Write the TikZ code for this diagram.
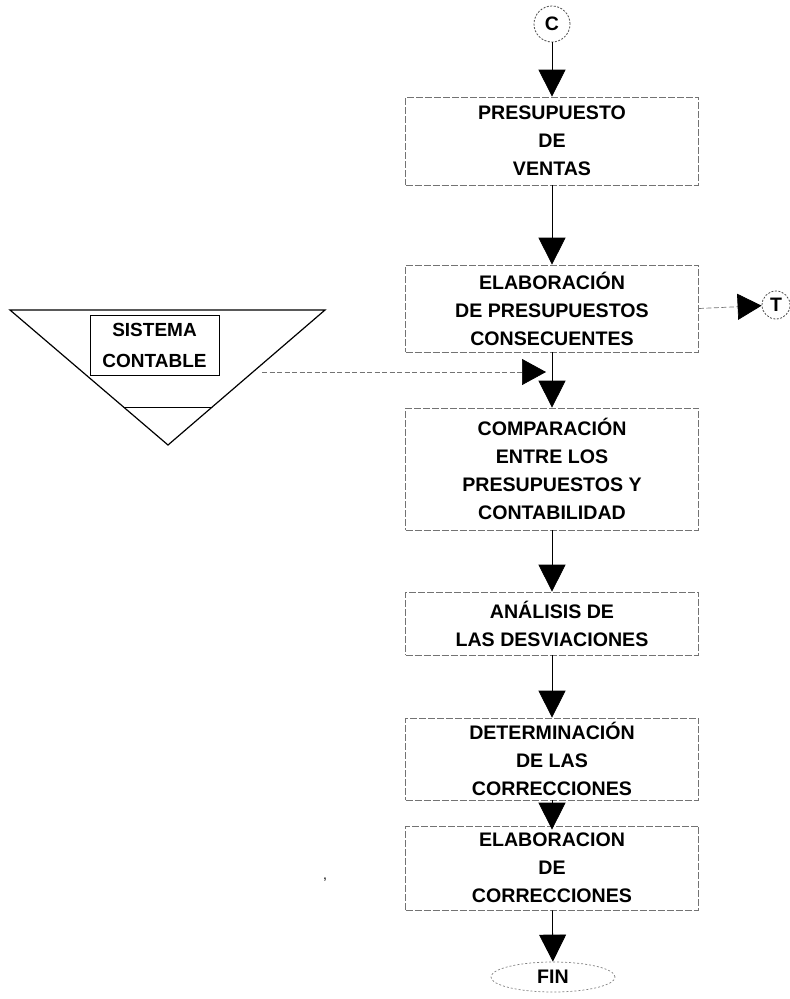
\documentclass[tikz,border=0pt]{standalone}
\usepackage{fontspec}
\setmainfont{Liberation Sans}
\usetikzlibrary{arrows.meta,shapes.geometric}
\begin{document}
\begin{tikzpicture}[x=1pt,y=-1pt,
  lbl/.style={font=\bfseries\fontsize{19.6}{28}\selectfont, align=center},
  stepbox/.style={lbl, draw=black!55, dash pattern=on 7pt off 2pt, line width=0.7pt,
    minimum width=293pt, inner sep=0pt},
  flow/.style={draw, line width=0.8pt, -{Triangle[width=27pt,length=27pt]}},
  dotflow/.style={draw=black!55, line width=0.7pt, dash pattern=on 5pt off 2.5pt,
    -{Triangle[width=26pt,length=24pt,color=black]}},
  connector/.style={circle, draw=black!70, dash pattern=on 2pt off 1.5pt, line width=0.8pt,
    inner sep=0pt, font=\bfseries\fontsize{19.5}{20}\selectfont},
  funnel/.style={draw, line width=1.2pt, line join=miter}
]
\useasboundingbox (0,0) rectangle (790,999);

% main column
\node[connector, minimum size=36pt] (c) at (552,24) {C};
\node[stepbox, minimum height=88pt] (b1) at (552,141) {PRESUPUESTO\\DE\\VENTAS};
\node[stepbox, minimum height=87pt] (b2) at (552,308.5) {ELABORACIÓN\\DE PRESUPUESTOS\\CONSECUENTES};
\node[stepbox, minimum height=122pt] (b3) at (552,469) {COMPARACIÓN\\ENTRE LOS\\PRESUPUESTOS Y\\CONTABILIDAD};
\node[stepbox, minimum height=63pt] (b4) at (552,623.5) {ANÁLISIS DE\\LAS DESVIACIONES};
\node[stepbox, minimum height=82pt] (b5) at (552,759) {DETERMINACIÓN\\DE LAS\\CORRECCIONES};
\node[stepbox, minimum height=84pt] (b6) at (552,868) {ELABORACION\\DE\\CORRECCIONES};
\node[ellipse, draw=black!50, dash pattern=on 2pt off 2pt, line width=0.7pt,
  minimum width=124pt, minimum height=30pt, inner sep=0pt, lbl] (fin) at (553,977) {FIN};

% side connector
\node[connector, minimum size=28pt] (t) at (776,305) {T};

% accounting system funnel
\coordinate (ftl) at (10,310);
\coordinate (ftr) at (325,310);
\coordinate (fbot) at (168,445);
\draw[funnel] (ftl) -- (ftr) -- (fbot) -- cycle;
\draw[line width=1pt] (124,407) -- (212,407);
\node[draw, line width=1pt, minimum width=129pt, minimum height=60pt, inner sep=0pt,
  font=\bfseries\fontsize{19}{31}\selectfont, align=center] (sys) at (154.5,345) {SISTEMA\\CONTABLE};
\coordinate (src) at (262,372);
\coordinate (sink) at (546,372);

% connectors
\draw[flow] (c) -- (b1);
\draw[flow] (b1) -- (b2);
\draw[flow] (b2) -- (b3);
\draw[flow] (b3) -- (b4);
\draw[flow] (b4) -- (b5);
\draw[flow] (b5.south) -- ([yshift=-4pt]b6.north);
\draw[flow] (b6) -- (fin);
\draw[dotflow] (b2.east) -- (t);
\draw[dotflow] (src) -- (sink);

% stray mark
\node[font=\fontsize{14}{14}\selectfont] (speck) at (325,880) {,};
\end{tikzpicture}
\end{document}
